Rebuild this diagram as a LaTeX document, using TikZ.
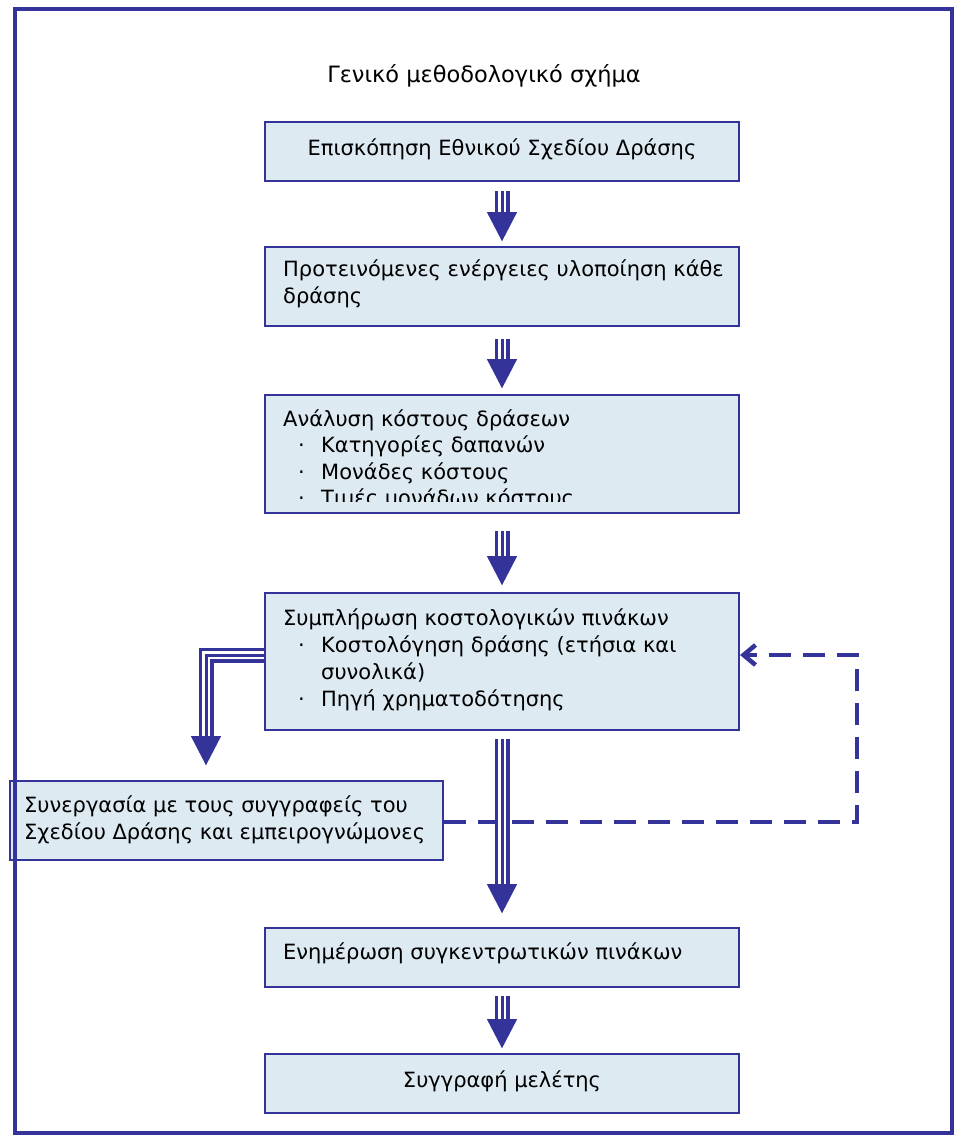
\documentclass[tikz,border=0pt]{standalone}
\usepackage{fontspec}
\setmainfont{DejaVu Sans}
\usetikzlibrary{arrows.meta}
\definecolor{navy}{RGB}{51,51,153}
\definecolor{boxfill}{RGB}{221,234,242}
\begin{document}
\begin{tikzpicture}[x=1pt,y=-1pt,
  box/.style={draw=navy, line width=2pt, fill=boxfill, minimum width=474pt, inner sep=0pt},
  txt/.style={anchor=base west, inner sep=0pt, font=\fontsize{21}{27}\selectfont},
  ctxt/.style={anchor=base, inner sep=0pt, font=\fontsize{21}{27}\selectfont},
  tri/.style 2 args={draw=navy, line width=15pt, shorten <=#1, shorten >=#2,
    -{Triangle[length=30pt,width=28pt]},
    postaction={draw=white, line width=8pt, -, shorten <=#1, shorten >=#2+30pt},
    postaction={draw=navy, line width=3pt, -, shorten <=#1, shorten >=#2+30pt}},
  dashline/.style={draw=navy, line width=4.5pt, dash pattern=on 22pt off 12pt,
    -{Straight Barb[length=12pt,width=20pt]}}
]
\useasboundingbox (0,0) rectangle (960,1145);

\node[ctxt, font=\fontsize{22.5}{27}\selectfont] (title) at (484,83) {Γενικό μεθοδολογικό σχήμα};

\node[box, minimum height=59pt] (b1) at (502,151.5) {};
\node[ctxt] (t1) at (502,155) {Επισκόπηση Εθνικού Σχεδίου Δράσης};

\node[box, minimum height=79pt] (b2) at (502,286.5) {};
\node[txt] (t2a) at (283,276) {Προτεινόμενες ενέργειες υλοποίηση κάθε};
\node[txt] (t2b) at (283,303) {δράσης};

\node[box, minimum height=118pt] (b3) at (502,454) {};
\begin{scope}
  \clip (265,395) rectangle (739,501);
  \node[txt] (t3a) at (283,426) {Ανάλυση κόστους δράσεων};
  \node[txt] (t3b) at (298,452.5) {\makebox[23pt][l]{·}Κατηγορίες δαπανών};
  \node[txt] (t3c) at (298,479) {\makebox[23pt][l]{·}Μονάδες κόστους};
  \node[txt] (t3d) at (298,505.5) {\makebox[23pt][l]{·}Τιμές μονάδων κόστους};
\end{scope}

\node[box, minimum height=137pt] (b4) at (502,661.5) {};
\node[txt] (t4a) at (283,625) {Συμπλήρωση κοστολογικών πινάκων};
\node[txt] (t4b) at (298,652) {\makebox[23pt][l]{·}Κοστολόγηση δράσης (ετήσια και};
\node[txt] (t4c) at (321,679) {συνολικά)};
\node[txt] (t4d) at (298,706) {\makebox[23pt][l]{·}Πηγή χρηματοδότησης};

\node[box, minimum width=433pt, minimum height=79pt] (b5) at (226.5,820.5) {};
\node[txt] (t5a) at (24,812) {Συνεργασία με τους συγγραφείς του};
\node[txt] (t5b) at (24,839) {Σχεδίου Δράσης και εμπειρογνώμονες};

\node[box, minimum height=59pt] (b6) at (502,957.5) {};
\node[txt] (t6) at (283,959) {Ενημέρωση συγκεντρωτικών πινάκων};

\node[box, minimum height=59pt] (b7) at (502,1083.5) {};
\node[ctxt] (t7) at (502,1087) {Συγγραφή μελέτης};

% connectors
\draw[tri={9pt}{4pt}] (b1) -- (b2);
\draw[tri={12pt}{5pt}] (b2) -- (b3);
\draw[tri={17pt}{6pt}] (b3) -- (b4);

\coordinate (c1) at (206,655);
\draw[tri={0pt}{14pt}] (b4.west |- c1) -- (c1) -- (c1 |- b5.north);

\coordinate (d1) at (857,822);
\draw[dashline] (b5.east |- d1) -- (d1) -- (d1 |- c1) -- (b4.east |- c1);

\draw[tri={8pt}{13pt}] (b4) -- (b6);
\draw[tri={8pt}{4pt}] (b6) -- (b7);

% frame
\draw[navy, line width=4pt] (14.5,9) rectangle (952,1133);
\end{tikzpicture}
\end{document}
